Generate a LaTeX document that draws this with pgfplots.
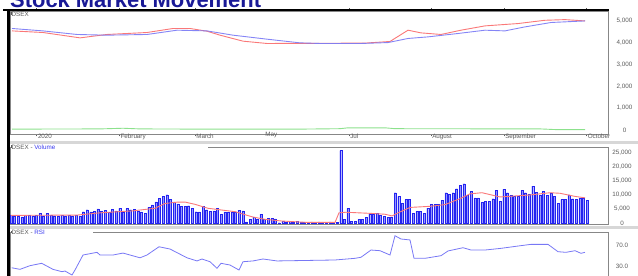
\documentclass[border=0pt]{standalone}
\usepackage{pgfplots}
\usepackage{pgfplotstable}
\pgfplotsset{compat=1.18}
\usepackage{fontspec}
\setmainfont{Liberation Sans}
\definecolor{idxblue}{RGB}{120,120,245}
\definecolor{mared}{RGB}{250,120,120}
\definecolor{grn}{RGB}{140,225,140}
\definecolor{titleblue}{RGB}{25,25,150}
\definecolor{lblgray}{RGB}{90,90,90}
\definecolor{framegray}{RGB}{135,135,135}
\definecolor{sepgray}{RGB}{215,215,215}
\definecolor{barfill}{RGB}{150,150,255}
\definecolor{baredge}{RGB}{35,35,240}
\definecolor{lblblue}{RGB}{60,60,240}

\pgfplotstableread{
v
2800
2700
2600
2300
2800
2900
2600
2800
3500
2700
3600
2800
2700
2500
2900
2400
2800
2600
2900
2500
4100
4800
4000
4300
5100
4200
4500
3800
4900
4400
5300
4100
5200
4800
5000
4300
4000
3500
5600
6500
7600
8900
9500
10100
8400
7600
6900
6100
6100
6200
5300
4100
4000
6000
4800
4200
4400
5300
3200
4000
4000
3800
4100
4500
4400
500
1400
2200
1400
3200
1400
1800
1800
1600
200
700
500
700
400
600
400
500
400
500
400
500
400
400
500
400
400
25700
1400
5300
600
700
1400
1400
2100
3200
3200
3600
2800
2500
2200
2100
10800
9500
7100
8400
8400
3600
4200
4200
3600
5400
6600
6600
6800
8100
10800
10200
10800
12200
13400
14000
9900
11400
9000
9000
7300
7700
7700
8700
11600
7700
12000
10800
9900
9500
9500
11600
10800
10200
13100
11000
9900
11400
9900
10800
9500
7100
8400
8400
10100
8700
8400
9000
8800
8200
}\voltable

\begin{document}
\begin{tikzpicture}
\useasboundingbox (0bp,0bp) rectangle (638bp,276bp);
\pgfplotsset{panel/.style={
  scale only axis, width=598bp, xmin=10, xmax=608,
  axis line style={framegray, line width=0.8bp},
  yticklabel pos=right,
  ytick style={draw=none},
  scaled y ticks=false,
  tick label style={font=\fontsize{6.3}{7}\selectfont, text=lblgray},
  yticklabel style={anchor=center, xshift=14bp},
  /pgf/number format/assume math mode=true,
  /pgf/number format/1000 sep={,},
}}

% Panel 1: index
\begin{axis}[panel, at={(10bp,142bp)}, anchor=south west, height=123bp,
  ymin=-183, ymax=5444, ytick={0,1000,2000,3000,4000,5000},
  xtick={36.7,119.3,195,349,431,504,586.5},
  xticklabels={2020,February,March,Jul,August,September,October},
  tick align=outside, major tick length=2.5bp,
  xtick style={draw=lblgray, line width=0.5bp},
  xticklabel style={anchor=north west, inner sep=0.5bp, xshift=0.6bp, yshift=3bp},
  extra x ticks={264}, extra x tick labels={May},
  extra x tick style={major tick length=0pt}]
\addplot[grn, line width=0.9bp] coordinates {(12,40) (100,50) (123,80) (140,50) (200,40) (300,40) (340,60) (348,100) (385,100) (395,60) (540,50) (555,20) (585,20)};
\addplot[mared, line width=0.9bp] coordinates {(12,4534) (43,4460) (80,4215) (107,4370) (147,4460) (173,4644) (190,4644) (207,4520) (220,4338) (243,4064) (267,3958) (365,3975) (390,4050) (408,4566) (421,4443) (441,4370) (461,4566) (485,4763) (518,4870) (545,5020) (565,5050) (585,4990)};
\addplot[idxblue, line width=0.9bp, opacity=0.9] coordinates {(12,4644) (43,4534) (77,4370) (107,4338) (147,4370) (177,4566) (207,4534) (233,4338) (267,4155) (300,3987) (320,3958) (361,3958) (388,4000) (408,4187) (428,4260) (458,4415) (485,4566) (505,4534) (525,4717) (551,4918) (585,4990)};
\end{axis}

% Panel 2: volume
\begin{axis}[panel, at={(10bp,52bp)}, anchor=south west, height=77bp,
  ymin=-247, ymax=26943, ytick={0,5000,10000,15000,20000,25000},
  xtick=\empty]
\addplot[ybar, bar width=2bp, fill=barfill, draw=baredge, line width=0.3bp] table[x expr=11+3.623*\coordindex, y=v] {\voltable};
\addplot[mared, line width=0.9bp] coordinates {(11,2800) (77,2900) (100,3700) (133,4400) (155,5300) (165,7000) (178,7500) (185,7500) (195,6700) (208,5300) (235,4100) (252,2300) (265,1400) (282,800) (305,350) (335,300) (339,3700) (346,3900) (371,3500) (385,3200) (392,2600) (400,4000) (410,5600) (430,6000) (445,6600) (460,8700) (470,10400) (482,10800) (500,9300) (530,10000) (550,10800) (560,10600) (575,9500) (585,9000)};
\end{axis}

% Panel 3: RSI
\begin{axis}[panel, at={(10bp,-2bp)}, anchor=south west, height=45.3bp,
  ymin=8.5, ymax=94.8, ytick={30,70},
  yticklabel style={/pgf/number format/fixed, /pgf/number format/fixed zerofill, /pgf/number format/precision=1},
  xtick=\empty]
\addplot[idxblue, line width=0.8bp] coordinates {(11.7,28) (20,25) (30,32) (41.7,36.5) (53,25) (62,20.5) (65,21.8) (72,14.2) (75,23.7) (83,52.3) (97,57.4) (100,52.3) (113,52.3) (123,56) (140,47) (147,52.3) (159,68) (170,63.7) (187,47) (197,41) (202,44.7) (210,39.5) (217,27) (221,36.5) (230,33.2) (239,23.7) (243,39.5) (253,41) (263,44.7) (277,41) (293,41.5) (335,42.8) (355,46) (361,48) (371,61.8) (380,60.5) (390,52.3) (395,89) (401,82.8) (410,81) (414,46) (425,46) (441,51) (448,60) (463,66.2) (471,61.8) (485,61.8) (501,65) (518,69.4) (531,72.6) (548,72.6) (558,58.6) (566,57.4) (575,60.5) (581,55.5) (585,57.4)};
\end{axis}

\begin{scope}[x=1bp,y=1bp]
% title (partly cut off at top)
\node[anchor=base west, inner sep=0pt, text=titleblue, font=\bfseries\fontsize{22}{25}\selectfont] at (10,268.8) {Stock Market Movement};
% separator bands
\fill[sepgray] (10,132) rectangle (638,135);
\fill[sepgray] (10,46.5) rectangle (638,49.5);
% panel labels
\fill[white] (10.5,127.5) rectangle (208,130.5);
\node[anchor=west, inner sep=0pt, font=\fontsize{6.3}{7}\selectfont] at (11,129) {\textcolor{lblgray}{\rule[1.5bp]{0.5bp}{2.5bp}DSEX - }\textcolor{lblblue}{Volume}};
\fill[white] (10.5,41.8) rectangle (93,44.8);
\node[anchor=west, inner sep=0pt, font=\fontsize{6.3}{7}\selectfont] at (11,43.3) {\textcolor{lblgray}{\rule[1.5bp]{0.5bp}{2.5bp}DSEX - }\textcolor{lblblue}{RSI}};
\node[anchor=west, inner sep=0pt, font=\fontsize{6.3}{7}\selectfont] at (11,262) {\textcolor{lblgray}{\rule[1.5bp]{0.5bp}{2.5bp}DSEX}};
% black frame lines
\draw[black, line width=2.5bp] (8.75,0) -- (8.75,266);
\draw[black, line width=2.5bp] (3,266) -- (609,266);
\end{scope}
\end{tikzpicture}
\end{document}
